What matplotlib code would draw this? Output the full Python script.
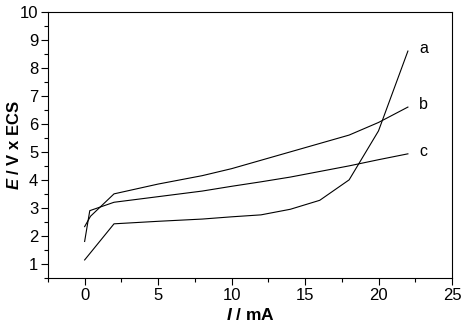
import matplotlib
matplotlib.use("Agg")
import matplotlib.pyplot as plt
from matplotlib.ticker import MultipleLocator

plt.rcParams['font.family'] = ['Liberation Sans', 'DejaVu Sans']
plt.rcParams['mathtext.fontset'] = 'custom'
plt.rcParams['mathtext.it'] = 'Liberation Sans:italic:bold'
plt.rcParams['mathtext.rm'] = 'Liberation Sans:bold'

x_a = [0, 2, 5, 8, 10, 12, 14, 16, 18, 20, 22]
y_a = [1.14, 2.43, 2.52, 2.6, 2.68, 2.75, 2.95, 3.27, 4.0, 5.75, 8.6]
x_b = [0, 0.4, 2, 5, 8, 10, 12, 14, 16, 18, 20, 22]
y_b = [2.33, 2.7, 3.5, 3.85, 4.15, 4.4, 4.7, 5.0, 5.3, 5.6, 6.05, 6.6]
x_c = [0, 0.35, 2, 5, 8, 10, 12, 14, 16, 18, 20, 22]
y_c = [1.8, 2.9, 3.2, 3.4, 3.6, 3.77, 3.93, 4.1, 4.3, 4.5, 4.72, 4.93]
labels = ['a', 'b', 'c']

fig = plt.figure(figsize=(4.65, 3.3), dpi=100)
ax = fig.add_axes([0.103, 0.158, 0.869, 0.806])
series = [(x_a, y_a), (x_b, y_b), (x_c, y_c)]
for (xs, ys), lab in zip(series, labels):
    ax.plot(xs, ys, color='black', lw=0.8)
    ax.text(xs[-1] + 0.75, ys[-1] + 0.08, lab, fontsize=11.5, va='center', ha='left')

ax.set_xlim(-2.5, 25)
ax.set_ylim(0.5, 10)
ax.xaxis.set_major_locator(MultipleLocator(5))
ax.xaxis.set_minor_locator(MultipleLocator(2.5))
ax.yaxis.set_major_locator(MultipleLocator(1))
ax.yaxis.set_minor_locator(MultipleLocator(0.5))
ax.tick_params(which='major', direction='out', length=5, width=0.8, labelsize=12, pad=2)
ax.tick_params(which='minor', direction='out', length=3, width=0.8)
ax.tick_params(top=False, right=False)
for s in ax.spines.values():
    s.set_linewidth(0.8)
ax.set_xlabel(r'$I$ / mA', fontsize=12.5, fontweight='bold')
ax.set_ylabel(r'$E$ / V x ECS', fontsize=12, fontweight='bold')
ax.xaxis.set_label_coords(0.5, -0.139)
ax.yaxis.set_label_coords(-0.084, 0.5)
ax.xaxis.label.set_va('center')
ax.yaxis.label.set_va('center')
fig.savefig('out.png', dpi=100)
